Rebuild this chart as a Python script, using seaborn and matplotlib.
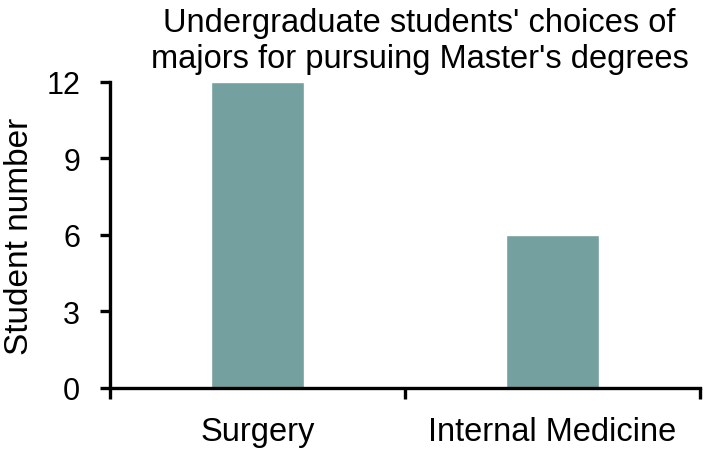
import numpy as np
import pandas as pd
import matplotlib
matplotlib.use("Agg")
import matplotlib.pyplot as plt
import seaborn as sns

# Data
majors = ["Surgery", "Internal Medicine"]
students = [12, 6]
y_ticks = [0, 3, 6, 9, 12]

df = pd.DataFrame({"Major": majors, "Students": students})

sns.set_style("white")
plt.rcParams["font.family"] = ["Liberation Sans", "DejaVu Sans"]
plt.rcParams["text.color"] = "black"
plt.rcParams["axes.labelcolor"] = "black"
plt.rcParams["xtick.color"] = "black"
plt.rcParams["ytick.color"] = "black"

fig = plt.figure(figsize=(7.09, 4.52), dpi=100)
ax = fig.add_axes([0.1551, 0.1394, 0.8322, 0.677])

sns.barplot(data=df, x="Major", y="Students", color="#74a09f",
            saturation=1, width=0.315, ax=ax)

ax.set_xlim(-0.5, 1.5)
ax.set_ylim(0, 12)
ax.set_yticks(y_ticks)

# category labels centred on bars, tick marks at category boundaries
ax.set_xticks(range(len(majors)))
ax.set_xticklabels(majors, fontsize=23.5)
ax.set_xticks(np.arange(-0.5, len(majors), 1.0), minor=True)
ax.tick_params(axis="x", which="major", length=0, pad=20)
ax.tick_params(axis="x", which="minor", length=8, width=2.4,
               direction="out", color="black", bottom=True)
ax.tick_params(axis="y", length=7.5, width=2.4, direction="out",
               color="black", labelsize=22, pad=14, left=True)

sns.despine(ax=ax)
for side in ["left", "bottom"]:
    ax.spines[side].set_linewidth(2.4)
    ax.spines[side].set_color("black")

ax.set_xlabel("")
ax.set_ylabel("Student number", fontsize=24, labelpad=8)
ax.set_title("Undergraduate students' choices of\nmajors for pursuing Master's degrees",
             fontsize=23.5, x=0.525, pad=11, linespacing=1.18)

fig.savefig("out.png", dpi=100)
